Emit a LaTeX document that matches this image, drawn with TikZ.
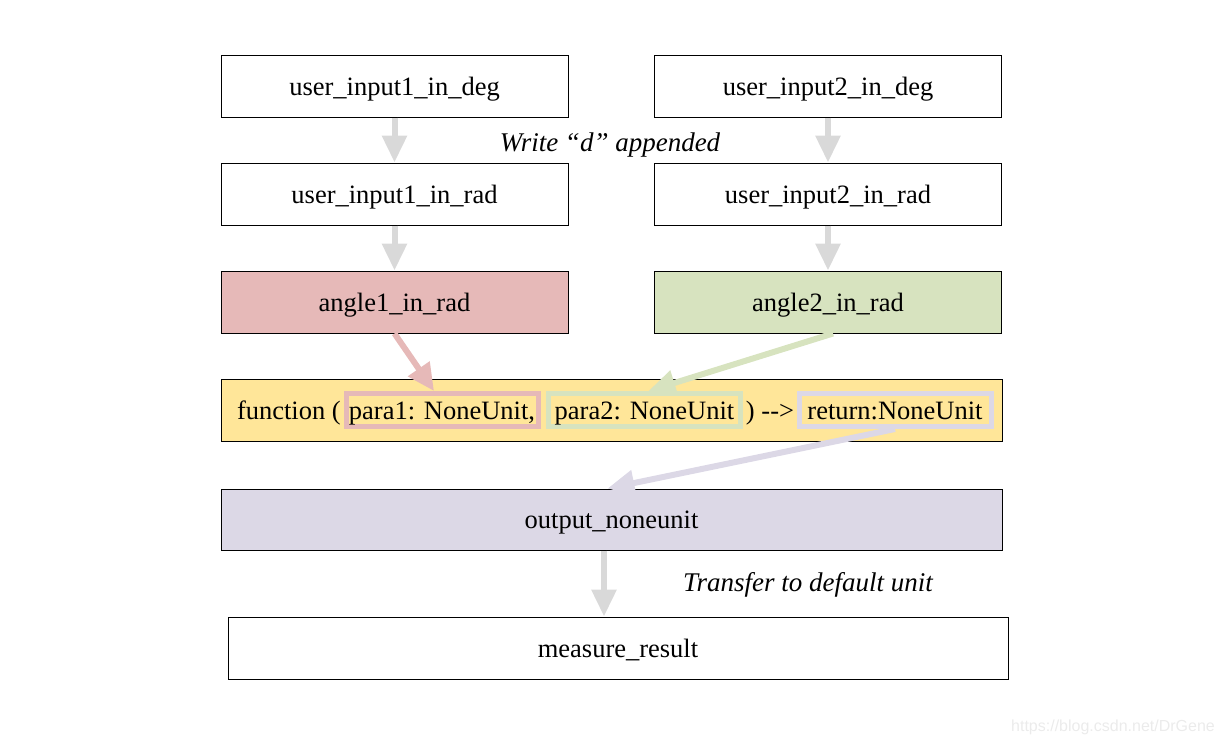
\documentclass[tikz,border=0pt]{standalone}
\usepackage{fontspec}
\setmainfont{Liberation Serif}
\newfontfamily\wmfont{Liberation Sans}
\usetikzlibrary{arrows.meta}
\definecolor{pinkred}{HTML}{E6B9B8}
\definecolor{olivegreen}{HTML}{D7E3BF}
\definecolor{sandyellow}{HTML}{FFE699}
\definecolor{lavender}{HTML}{DCD8E6}
\definecolor{arrowgray}{HTML}{D9D9D9}

\begin{document}
\begin{tikzpicture}[x=1pt,y=-1pt,
    txt/.style={font=\fontsize{26.5}{30}\selectfont,text height=20pt,text depth=2pt},
    box/.style={txt,draw=black,line width=1pt,minimum width=347,minimum height=62,inner sep=0pt},
    wide/.style={box,minimum width=781},
    para/.style={txt,line width=5pt,minimum width=192,minimum height=33,inner sep=0pt},
    note/.style={txt,font=\fontsize{27}{30}\selectfont\itshape},
    garrow/.style={draw=arrowgray,line width=6pt,-{Triangle[length=27pt,width=24pt]}},
    carrow/.style={line width=6pt,-{Triangle[length=27pt,width=25pt]}}]
    \useasboundingbox (0,0) rectangle (1223,744);

    \node[box] (in1deg) at (394.5,86) {user\_input1\_in\_deg};
    \node[box] (in2deg) at (828,86) {user\_input2\_in\_deg};
    \node[box] (in1rad) at (394.5,194) {user\_input1\_in\_rad};
    \node[box] (in2rad) at (828,194) {user\_input2\_in\_rad};
    \node[box,fill=pinkred] (ang1) at (394.5,302) {angle1\_in\_rad};
    \node[box,fill=olivegreen] (ang2) at (828,302) {angle2\_in\_rad};

    \node[wide,fill=sandyellow] (func) at (611.5,410) {};
    \node[txt,anchor=east,inner sep=0pt] (fname) at (341,410) {function (};
    \node[para,draw=pinkred] (p1) at (442,410) {para1: NoneUnit,};
    \node[para,draw=olivegreen] (p2) at (644.5,410) {para2: NoneUnit};
    \node[txt,inner sep=0pt] (arr) at (770,410) {) -{}-{}>};
    \node[para,draw=lavender] (ret) at (895,410) {return:NoneUnit};

    \node[wide,fill=lavender,minimum height=61] (out) at (611.5,519.5) {output\_noneunit};
    \node[wide,minimum width=780] (res) at (618,648) {measure\_result};

    \node[note] (wlabel) at (610,142) {Write “d” appended};
    \node[note] (tlabel) at (808,582) {Transfer to default unit};

    \draw[garrow] (in1deg) -- (in1rad);
    \draw[garrow] (in2deg) -- (in2rad);
    \draw[garrow] (in1rad) -- (ang1);
    \draw[garrow] (in2rad) -- (ang2);
    \draw[carrow,draw=pinkred] (ang1.south) -- ([xshift=-8]p1.north);
    \draw[carrow,draw=olivegreen] ([xshift=5]ang2.south) -- ([xshift=4]p2.north);
    \draw[carrow,draw=lavender] (ret.south) -- ([xshift=-4]out.north);
    \draw[garrow] ([xshift=-7.5]out.south) -- ([xshift=-14]res.north);

    \node[font=\wmfont\fontsize{16}{18}\selectfont,text=black!8] (wm) at (1113,727) {https://blog.csdn.net/DrGene};
\end{tikzpicture}
\end{document}
